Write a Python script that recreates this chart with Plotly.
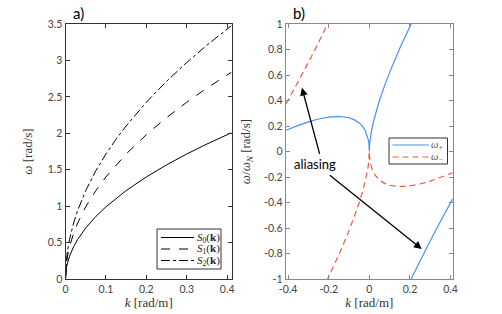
import plotly.graph_objects as go

# ---------------- data: panel a ----------------
k_a = [0, 0.0005, 0.001, 0.0025, 0.005, 0.01, 0.02, 0.03, 0.05, 0.075, 0.1,
       0.125, 0.15, 0.2, 0.25, 0.3, 0.35, 0.41]
S0 = [0, 0.070, 0.099, 0.1566, 0.2215, 0.3132, 0.4429, 0.5425, 0.7004, 0.8578,
      0.9905, 1.1074, 1.2131, 1.4007, 1.5660, 1.7155, 1.8530, 2.0055]
S1 = [0, 0.099, 0.140, 0.2215, 0.3132, 0.4429, 0.6264, 0.7672, 0.9905, 1.2131,
      1.4007, 1.5660, 1.7155, 1.9809, 2.2147, 2.4261, 2.6206, 2.8363]
S2 = [0, 0.1213, 0.1716, 0.2712, 0.3836, 0.5425, 0.7672, 0.9396, 1.2131, 1.4857,
      1.7155, 1.9181, 2.1011, 2.4261, 2.7124, 2.9713, 3.2095, 3.4736]
legend_a = ["<i>S</i><sub>0</sub>(<b>k</b>)", "<i>S</i><sub>1</sub>(<b>k</b>)",
            "<i>S</i><sub>2</sub>(<b>k</b>)"]

# ---------------- data: panel b ----------------
# omega_plus (blue): k<=0 branch, k>0 branch, aliased k>0 branch
kp = [-0.41, -0.38, -0.35, -0.3, -0.25, -0.2, -0.15, -0.1, -0.075, -0.05, -0.03,
      -0.02, -0.01, -0.005, -0.002, -0.0005, 0,
      0.0005, 0.002, 0.005, 0.01, 0.02, 0.03, 0.05, 0.075, 0.1, 0.15, 0.2, 0.21,
      None,
      0.2, 0.25, 0.3, 0.35, 0.41]
wp = [0.1666, 0.1866, 0.2052, 0.2328, 0.255, 0.2701, 0.2752, 0.2647, 0.2499, 0.224,
      0.1891, 0.1624, 0.1222, 0.0901, 0.059, 0.0304, 0,
      0.0322, 0.0662, 0.1079, 0.1578, 0.2336, 0.2959, 0.402, 0.5169, 0.6207,
      0.8092, 0.9821, 1.0154,
      None,
      -1.0179, -0.855, -0.6992, -0.5488, -0.3738]
# omega_minus (red dashed)
km = [-0.41, -0.35, -0.3, -0.25, -0.2,
      None,
      -0.21, -0.2, -0.15, -0.1, -0.075, -0.05, -0.03, -0.02, -0.01, -0.005, -0.002,
      -0.0005, 0,
      0.0005, 0.002, 0.005, 0.01, 0.02, 0.03, 0.05, 0.075, 0.1, 0.15, 0.2, 0.25,
      0.3, 0.35, 0.38, 0.41]
wm = [0.3738, 0.5488, 0.6992, 0.855, 1.0179,
      None,
      -1.0154, -0.9821, -0.8092, -0.6207, -0.5169, -0.402, -0.2959, -0.2336,
      -0.1578, -0.1079, -0.0662, -0.0322, 0,
      -0.0304, -0.059, -0.0901, -0.1222, -0.1624, -0.1891, -0.224, -0.2499,
      -0.2647, -0.2752, -0.2701, -0.255, -0.2328, -0.2052, -0.1866, -0.1666]
legend_b = ["<i>ω</i><sub>+</sub>", "<i>ω</i><sub>−</sub>"]

BLUE = "#4A90F0"
RED = "#EC5B3E"
SERIF = "Liberation Serif"
SANS = "Lato"
DASH_A = ["solid", "dash", "dashdot"]
RED_DASH = "6px,4px"

fig = go.Figure()
for y, name, dash in zip([S0, S1, S2], legend_a, DASH_A):
    fig.add_trace(go.Scatter(x=k_a, y=y, mode="lines", name=name, showlegend=False,
                             line=dict(color="black", width=1, dash=dash),
                             xaxis="x", yaxis="y"))
fig.add_trace(go.Scatter(x=kp, y=wp, mode="lines", name=legend_b[0], showlegend=False,
                         line=dict(color=BLUE, width=1.2), connectgaps=False,
                         xaxis="x2", yaxis="y2"))
fig.add_trace(go.Scatter(x=km, y=wm, mode="lines", name=legend_b[1], showlegend=False,
                         line=dict(color=RED, width=1.2, dash=RED_DASH),
                         connectgaps=False, xaxis="x2", yaxis="y2"))

# page body margin is removed in post_script, so work directly in window pixels
W, H = 502, 314
def dx(px): return px / W
def dy(py): return 1 - py / H

axcommon = dict(showline=True, mirror="ticks", ticks="inside", ticklen=4,
                showgrid=False, zeroline=False, automargin=False,
                tickfont=dict(family=SANS, size=10.5, color="#444"))

fig.update_layout(
    width=W, height=H, margin=dict(l=0, r=0, t=0, b=0, autoexpand=False),
    paper_bgcolor="white", plot_bgcolor="white", showlegend=False,
    xaxis=dict(domain=[dx(65.5), dx(232)], range=[0, 0.412],
               tickvals=[0, 0.1, 0.2, 0.3, 0.4], ticktext=["0", "0.1", "0.2", "0.3", "0.4"],
               linecolor="#333", tickcolor="#333",
               title=dict(text="<i>k</i> [rad/m]", font=dict(family=SERIF, size=13, color="#333"),
                          standoff=2),
               anchor="y", **axcommon),
    yaxis=dict(domain=[dy(279), dy(24)], range=[0, 3.5],
               tickvals=[0, 0.5, 1, 1.5, 2, 2.5, 3, 3.5],
               ticktext=["0", "0.5", "1", "1.5", "2", "2.5", "3", "3.5"],
               linecolor="#333", tickcolor="#333",
               title=dict(text="<i>ω</i> [rad/s]", font=dict(family=SERIF, size=13, color="#333"),
                          standoff=12),
               anchor="x", **axcommon),
    xaxis2=dict(domain=[dx(285.7), dx(453)], range=[-0.412, 0.412],
                tickvals=[-0.4, -0.2, 0, 0.2, 0.4], ticktext=["-0.4", "-0.2", "0", "0.2", "0.4"],
                linecolor="#888", tickcolor="#888",
                title=dict(text="<i>k</i> [rad/m]", font=dict(family=SERIF, size=13, color="#333"),
                           standoff=2),
                anchor="y2", **axcommon),
    yaxis2=dict(domain=[dy(279), dy(24)], range=[-1, 1],
                tickvals=[-1, -0.8, -0.6, -0.4, -0.2, 0, 0.2, 0.4, 0.6, 0.8, 1],
                ticktext=["-1", "-0.8", "-0.6", "-0.4", "-0.2", "0", "0.2", "0.4", "0.6", "0.8", "1"],
                linecolor="#888", tickcolor="#888",
                title=dict(text="<i>ω</i>/<i>ω</i><sub><i>N</i></sub> [rad/s]",
                           font=dict(family=SERIF, size=13, color="#333"), standoff=10),
                anchor="x2", **axcommon),
)

# ---- hand-drawn legends (MATLAB style: short sample line, text right) ----
def legend_box(x0, x1, y0, y1, rows, line_x0, line_x1, text_x, labels, styles, fsize, tcolor):
    fig.add_shape(type="rect", xref="paper", yref="paper",
                  x0=dx(x0), x1=dx(x1), y0=dy(y1), y1=dy(y0),
                  line=dict(color="#333", width=1), fillcolor="white", layer="above")
    for ry, lab, (col, dash) in zip(rows, labels, styles):
        fig.add_shape(type="line", xref="paper", yref="paper",
                      x0=dx(line_x0), x1=dx(line_x1), y0=dy(ry), y1=dy(ry),
                      line=dict(color=col, width=1.1, dash=dash), layer="above")
        fig.add_annotation(x=dx(text_x), y=dy(ry), xref="paper", yref="paper",
                           xanchor="left", yanchor="middle", text=lab, showarrow=False,
                           borderpad=0,
                           font=dict(family=SERIF, size=fsize, color=tcolor))

legend_box(157, 221, 229, 269, [237.5, 249, 260.5], 161, 194, 196, legend_a,
           [("black", d) for d in DASH_A], 11, "#222")
legend_box(389, 447.5, 138, 164, [145, 157], 392.5, 429, 430, legend_b,
           [(BLUE, "solid"), (RED, RED_DASH)], 10.5, "#555")

fig.add_annotation(x=dx(78), y=dy(13), xref="paper", yref="paper", text="a)",
                   xanchor="center", yanchor="middle",
                   showarrow=False, font=dict(family=SANS, size=15, color="black"))
fig.add_annotation(x=dx(299), y=dy(13), xref="paper", yref="paper", text="b)",
                   xanchor="center", yanchor="middle",
                   showarrow=False, font=dict(family=SANS, size=15, color="black"))
fig.add_annotation(x=-0.27, y=-0.1, xref="x2", yref="y2", text="aliasing",
                   showarrow=False, font=dict(family=SANS, size=13, color="black"))
fig.add_annotation(x=-0.332, y=0.5, ax=-0.243, ay=-0.03, xref="x2", yref="y2",
                   axref="x2", ayref="y2", text="", showarrow=True, arrowhead=2,
                   arrowsize=1.2, arrowwidth=1.3, arrowcolor="black")
fig.add_annotation(x=0.258, y=-0.765, ax=-0.202, ay=-0.176, xref="x2", yref="y2",
                   axref="x2", ayref="y2", text="", showarrow=True, arrowhead=2,
                   arrowsize=1.2, arrowwidth=1.3, arrowcolor="black")

fig.write_html("out.html", config={"displayModeBar": False},
               post_script="document.body.style.margin='0';document.body.style.overflow='hidden';")
